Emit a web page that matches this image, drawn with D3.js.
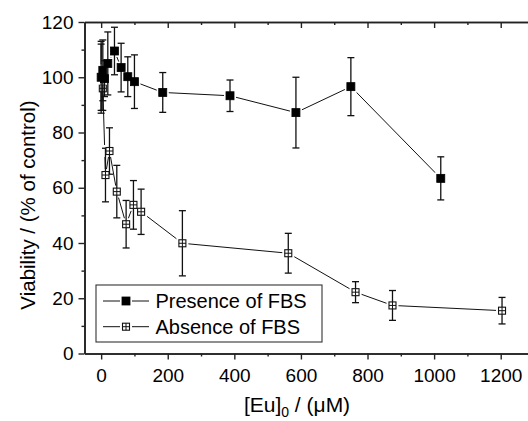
<!DOCTYPE html>
<html>
<head>
<meta charset="utf-8">
<script src="https://cdn.jsdelivr.net/npm/d3@7"></script>
<style>
  html, body { margin: 0; padding: 0; background: #fff; }
  svg { display: block; }
  text { font-family: "Liberation Sans", Arial, sans-serif; fill: #000; }
</style>
</head>
<body>
<svg id="chart" width="528" height="421"></svg>
<script>
// Cell viability vs. europium concentration
const presenceX   = [0, 5, 10, 20, 40, 60, 80, 100, 185, 387, 585, 750, 1020];
const presenceY   = [100, 102.5, 99.5, 105, 109.5, 103.5, 100.2, 98.4, 94.5, 93.3, 87.2, 96.6, 63.4];
const presenceErr = [13, 11, 6.5, 11.4, 8.6, 8.8, 7.2, 9.7, 7.2, 5.7, 12.8, 10.5, 7.8];

const absenceX    = [0, 5, 13, 25, 47, 75, 97, 120, 244, 562, 764, 875, 1204];
const absenceY    = [100, 96, 64.6, 73.3, 58.6, 46.8, 53.8, 51.3, 39.9, 36.3, 22.2, 17.4, 15.5];
const absenceErr  = [12, 8, 9.7, 8.4, 9.5, 8.6, 8.8, 8.2, 11.8, 7.2, 3.8, 5.4, 4.8];

const xMajor = [0, 200, 400, 600, 800, 1000, 1200];
const xMinor = [100, 300, 500, 700, 900, 1100];
const yMajor = [0, 20, 40, 60, 80, 100, 120];
const yMinor = [10, 30, 50, 70, 90, 110];

const seriesNames = ["Presence of FBS", "Absence of FBS"];

const svg = d3.select("#chart");
const plotLeft = 84.5, plotRight = 534, plotTop = 22, plotBottom = 353.5;

const x = d3.scaleLinear().domain([-50, 1300]).range([plotLeft, plotRight]);
const y = d3.scaleLinear().domain([0, 120]).range([plotBottom, plotTop]);

const axisColor = "#222";
const tickFont = 19;

// Frame axes: bottom/left with outward ticks, top/right mirrored inward
function drawAxis(axis, transform) {
  const g = svg.append("g").attr("transform", transform).call(axis);
  g.selectAll("path.domain").attr("stroke", axisColor).attr("stroke-width", 1.6);
  g.selectAll(".tick line").attr("stroke", axisColor).attr("stroke-width", 1.4);
  g.selectAll("text").style("font-size", tickFont + "px").style("font-family", "Liberation Sans, Arial, sans-serif");
  return g;
}

drawAxis(d3.axisBottom(x).tickValues(xMajor).tickSizeInner(6).tickSizeOuter(0).tickPadding(9).tickFormat(d3.format("d")),
         `translate(0,${plotBottom})`);
drawAxis(d3.axisBottom(x).tickValues(xMinor).tickSizeInner(3).tickSizeOuter(0).tickFormat(""),
         `translate(0,${plotBottom})`);
drawAxis(d3.axisTop(x).tickValues(xMajor).tickSizeInner(-6).tickSizeOuter(0).tickFormat(""),
         `translate(0,${plotTop})`);
drawAxis(d3.axisTop(x).tickValues(xMinor).tickSizeInner(-3).tickSizeOuter(0).tickFormat(""),
         `translate(0,${plotTop})`);
drawAxis(d3.axisLeft(y).tickValues(yMajor).tickSizeInner(6).tickSizeOuter(0).tickPadding(5).tickFormat(d3.format("d")),
         `translate(${plotLeft},0)`);
drawAxis(d3.axisLeft(y).tickValues(yMinor).tickSizeInner(3).tickSizeOuter(0).tickFormat(""),
         `translate(${plotLeft},0)`);
drawAxis(d3.axisRight(y).tickValues(yMajor).tickSizeInner(-6).tickSizeOuter(0).tickFormat(""),
         `translate(${plotRight},0)`);
drawAxis(d3.axisRight(y).tickValues(yMinor).tickSizeInner(-3).tickSizeOuter(0).tickFormat(""),
         `translate(${plotRight},0)`);

// Axis titles
const xt = svg.append("text")
  .attr("x", 297).attr("y", 412)
  .attr("text-anchor", "middle")
  .style("font-size", "21px");
xt.append("tspan").text("[Eu]");
xt.append("tspan").attr("dy", 5).style("font-size", "14px").text("0");
xt.append("tspan").attr("dy", -5).text(" / (μM)");

svg.append("text")
  .attr("transform", "translate(35,205) rotate(-90)")
  .attr("text-anchor", "middle")
  .style("font-size", "20.5px")
  .text("Viability / (% of control)");

const mSize = 8;

function drawSeries(xs, ys, es, filled) {
  const pts = xs.map((d, i) => ({ x: d, y: ys[i], e: es[i] }));
  const g = svg.append("g");
  g.append("path")
    .datum(pts)
    .attr("fill", "none")
    .attr("stroke", "#111")
    .attr("stroke-width", 1)
    .attr("d", d3.line().x(d => x(d.x)).y(d => y(d.y)));
  // white gap around each marker
  g.selectAll("rect.halo").data(pts).join("rect")
    .attr("class", "halo")
    .attr("x", d => x(d.x) - mSize / 2 - 2)
    .attr("y", d => y(d.y) - mSize / 2 - 2)
    .attr("width", mSize + 4).attr("height", mSize + 4)
    .attr("fill", "#fff");
  // error bars
  const eb = g.selectAll("g.err").data(pts).join("g").attr("class", "err")
    .attr("stroke", "#111").attr("stroke-width", 1.3);
  eb.append("line")
    .attr("x1", d => x(d.x)).attr("x2", d => x(d.x))
    .attr("y1", d => y(d.y + d.e)).attr("y2", d => y(d.y - d.e));
  eb.append("line")
    .attr("x1", d => x(d.x) - 3.5).attr("x2", d => x(d.x) + 3.5)
    .attr("y1", d => y(d.y + d.e)).attr("y2", d => y(d.y + d.e));
  eb.append("line")
    .attr("x1", d => x(d.x) - 3.5).attr("x2", d => x(d.x) + 3.5)
    .attr("y1", d => y(d.y - d.e)).attr("y2", d => y(d.y - d.e));
  // markers
  const mk = g.selectAll("g.mk").data(pts).join("g").attr("class", "mk")
    .attr("transform", d => `translate(${x(d.x)},${y(d.y)})`);
  drawMarker(mk, filled);
}

function drawMarker(sel, filled) {
  if (filled) {
    sel.append("rect")
      .attr("x", -mSize / 2).attr("y", -mSize / 2)
      .attr("width", mSize).attr("height", mSize)
      .attr("fill", "#000").attr("stroke", "#000").attr("stroke-width", 0.8);
  } else {
    sel.append("rect")
      .attr("x", -mSize / 2 + 0.5).attr("y", -mSize / 2 + 0.5)
      .attr("width", mSize - 1).attr("height", mSize - 1)
      .attr("fill", "#fff").attr("stroke", "#111").attr("stroke-width", 1.1);
    sel.append("line").attr("x1", -mSize / 2 + 0.5).attr("x2", mSize / 2 - 0.5)
      .attr("y1", 0).attr("y2", 0).attr("stroke", "#111").attr("stroke-width", 1);
    sel.append("line").attr("y1", -mSize / 2 + 0.5).attr("y2", mSize / 2 - 0.5)
      .attr("x1", 0).attr("x2", 0).attr("stroke", "#111").attr("stroke-width", 1);
  }
}

drawSeries(absenceX, absenceY, absenceErr, false);
drawSeries(presenceX, presenceY, presenceErr, true);

// Legend
const lg = svg.append("g");
lg.append("rect")
  .attr("x", 96).attr("y", 285)
  .attr("width", 226).attr("height", 57)
  .attr("fill", "#fff").attr("stroke", "#333").attr("stroke-width", 1.1);
seriesNames.forEach((name, i) => {
  const cy = 301 + i * 25.7;
  const row = lg.append("g");
  row.append("line").attr("x1", 103).attr("x2", 120).attr("y1", cy).attr("y2", cy)
    .attr("stroke", "#111").attr("stroke-width", 1);
  row.append("line").attr("x1", 132).attr("x2", 149).attr("y1", cy).attr("y2", cy)
    .attr("stroke", "#111").attr("stroke-width", 1);
  const m = row.append("g").attr("transform", `translate(126,${cy})`);
  drawMarker(m, i === 0);
  row.append("text").attr("x", 155.5).attr("y", cy).attr("dy", "0.36em")
    .style("font-size", "20px").text(name);
});
</script>
</body>
</html>
